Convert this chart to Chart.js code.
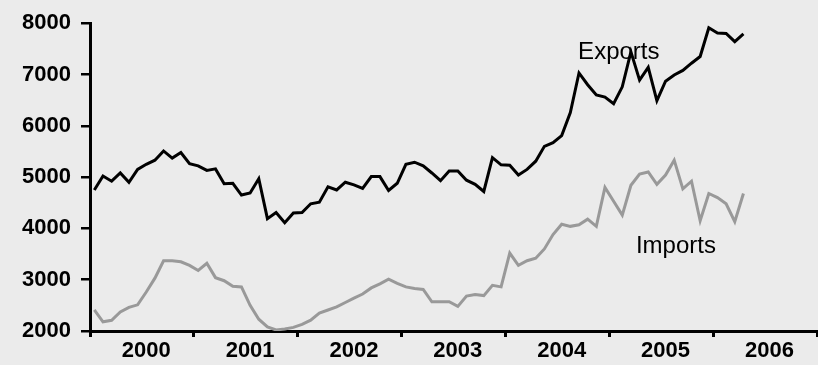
<!DOCTYPE html>
<html>
<head>
<meta charset="utf-8">
<script src="https://cdn.jsdelivr.net/npm/chart.js@4.4.1/dist/chart.umd.min.js"></script>
<style>
  html, body { margin: 0; padding: 0; background: #ebebeb; }
  #wrap { width: 818px; height: 365px; position: relative; }
</style>
</head>
<body>
<div id="wrap"><canvas id="c"></canvas></div>
<script>
// Years shown on the horizontal axis (12 monthly slots each)
const years = [2000, 2001, 2002, 2003, 2004, 2005, 2006];
// Value ticks on the vertical axis
const yTicks = [2000, 3000, 4000, 5000, 6000, 7000, 8000];

// Monthly exports, Jan 2000 – Apr 2006
const exportsSeries = [
  4750, 5020, 4920, 5080, 4900, 5150, 5250, 5330, 5510, 5370, 5480, 5260,
  5220, 5130, 5160, 4870, 4880, 4650, 4690, 4970, 4190, 4310, 4110, 4300,
  4310, 4480, 4510, 4810, 4750, 4900, 4850, 4780, 5010, 5010, 4740, 4880,
  5250, 5290, 5220, 5080, 4930, 5120, 5120, 4940, 4860, 4720, 5380, 5240,
  5230, 5040, 5150, 5310, 5600, 5670, 5810, 6260, 7030, 6800, 6600, 6560,
  6430, 6760, 7440, 6890, 7140, 6490, 6870, 6990, 7080, 7220, 7350, 7910,
  7810, 7800, 7640, 7790
];

// Monthly imports, Jan 2000 – Apr 2006
const importsSeries = [
  2410, 2180, 2210, 2370, 2460, 2510, 2760, 3030, 3370, 3370, 3350, 3280,
  3180, 3320, 3040, 2980, 2870, 2860, 2500, 2230, 2080, 2020, 2040, 2070,
  2130, 2210, 2350, 2410, 2470, 2555, 2640, 2720, 2840, 2920, 3010, 2930,
  2860, 2830, 2810, 2570, 2570, 2570, 2480, 2680, 2710, 2690, 2890, 2860,
  3520, 3280, 3370, 3420, 3600, 3880, 4080, 4040, 4070, 4180, 4040, 4800,
  4530, 4260, 4840, 5060, 5100, 4860, 5040, 5330, 4770, 4920, 4150, 4680,
  4600, 4480, 4130, 4680
];

// One category per month across all years on the axis
const monthLabels = [];
years.forEach(y => {
  for (let m = 1; m <= 12; m++) monthLabels.push(y + '-' + String(m).padStart(2, '0'));
});

const FONT = '"Liberation Sans", Arial, Helvetica, sans-serif';
const BG = '#ebebeb';

const background = {
  id: 'background',
  beforeDraw(chart) {
    const ctx = chart.ctx;
    ctx.save();
    ctx.fillStyle = BG;
    ctx.fillRect(0, 0, chart.width, chart.height);
    ctx.restore();
  }
};

// Series names written next to their lines
const seriesNames = {
  id: 'seriesNames',
  afterDatasetsDraw(chart, args, opts) {
    const ctx = chart.ctx;
    const xs = chart.scales.x, ys = chart.scales.y;
    ctx.save();
    ctx.font = opts.size + 'px ' + FONT;
    ctx.fillStyle = '#000';
    ctx.textAlign = 'center';
    ctx.textBaseline = 'alphabetic';
    opts.items.forEach(it => {
      ctx.fillText(it.text, xs.getPixelForValue(it.at), ys.getPixelForValue(it.value));
    });
    ctx.restore();
  }
};

new Chart(document.getElementById('c'), {
  type: 'line',
  data: {
    labels: monthLabels,
    datasets: [
      { label: 'Exports', data: exportsSeries, borderColor: '#000000', borderWidth: 3 },
      { label: 'Imports', data: importsSeries, borderColor: '#999999', borderWidth: 3 }
    ]
  },
  options: {
    responsive: true,
    maintainAspectRatio: false,
    animation: false,
    events: [],
    layout: { padding: { top: 21, right: 1, left: 0, bottom: 0 } },
    elements: {
      point: { radius: 0 },
      line: { tension: 0, borderJoinStyle: 'miter', borderCapStyle: 'butt', fill: false }
    },
    plugins: {
      legend: { display: false },
      tooltip: { enabled: false },
      seriesNames: {
        size: 24,
        items: [
          { text: 'Exports', at: 60.6, value: 7300 },
          { text: 'Imports', at: 67.2, value: 3523 }
        ]
      }
    },
    scales: {
      x: {
        type: 'category',
        offset: true,
        grid: {
          offset: true,
          drawOnChartArea: false,
          drawTicks: true,
          tickLength: 6,
          lineWidth: 3,
          color: c => (c.index === undefined || c.index % 12 === 0) ? '#000' : 'rgba(0,0,0,0)'
        },
        border: { display: true, color: '#000', width: 3 },
        ticks: {
          autoSkip: false,
          maxRotation: 0,
          minRotation: 0,
          padding: 1,
          color: '#000',
          font: { family: FONT, size: 22, weight: 'bold' },
          callback: (v, i) => (i % 12 === 6) ? String(years[Math.floor(i / 12)]) : ''
        },
        afterFit: s => { s.height = 34; }
      },
      y: {
        min: 2000,
        max: 8000,
        afterBuildTicks: s => { s.ticks = yTicks.map(v => ({ value: v })); },
        grid: { drawOnChartArea: false, drawTicks: true, tickLength: 9, lineWidth: 2.5, color: '#000' },
        border: { display: true, color: '#000', width: 3 },
        ticks: {
          padding: 10,
          color: '#000',
          font: { family: FONT, size: 22, weight: 'bold' },
          callback: v => String(v)
        },
        afterFit: s => { s.width = 90; }
      }
    }
  },
  plugins: [background, seriesNames]
});
</script>
</body>
</html>
